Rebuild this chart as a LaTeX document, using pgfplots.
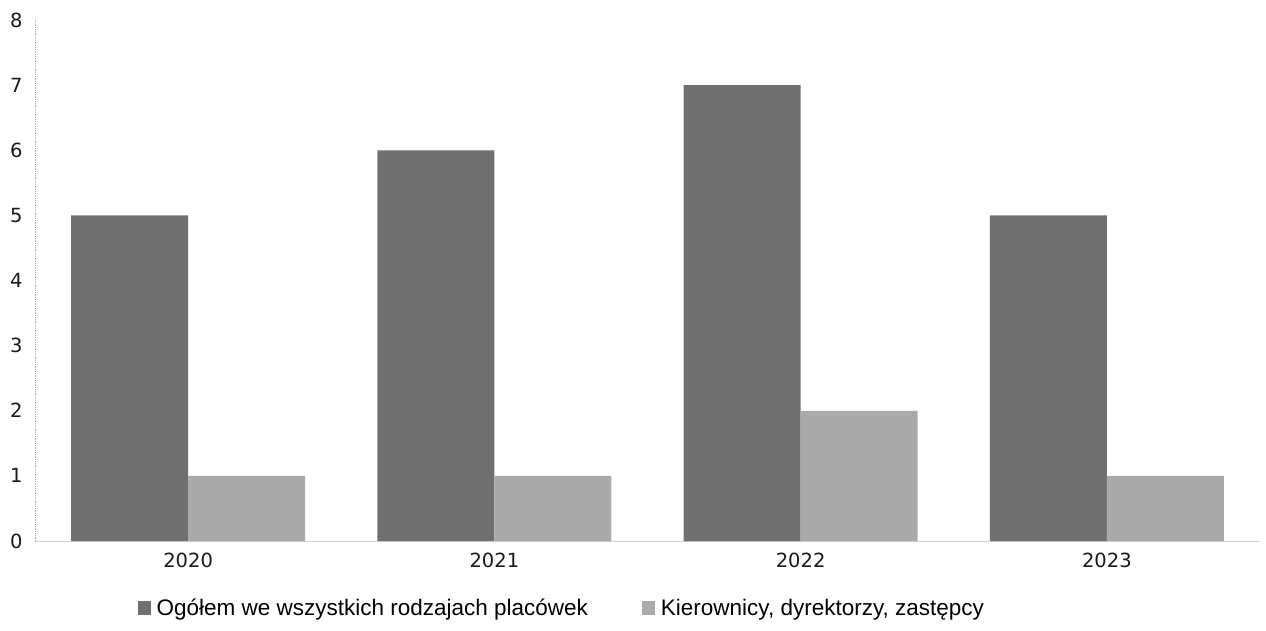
\documentclass[border=0pt]{standalone}
\usepackage{pgfplots}
\pgfplotsset{compat=1.18}
\usepackage{fontspec}
\setmainfont{Liberation Sans}
\newfontfamily\tickfont{DejaVu Sans}
\usetikzlibrary{calc}
\definecolor{darkbar}{RGB}{112,112,112}
\definecolor{lightbar}{RGB}{170,170,170}
\begin{document}
\begin{tikzpicture}
\begin{axis}[name=ax,
  scale only axis, width=1225pt, height=521pt,
  xmin=-0.5, xmax=3.5, ymin=0, ymax=8,
  ybar=0pt, bar width=117pt,
  xtick={0,1,2,3}, xticklabels={2020,2021,2022,2023},
  ytick={0,1,...,8},
  major tick length=0pt,
  axis x line*=bottom, axis y line*=left,
  x axis line style={draw=gray!35, line width=1pt},
  y axis line style={draw=gray!70, densely dotted, line width=0.8pt},
  ticklabel style={font=\tickfont\fontsize{19.5}{22}\selectfont, text=black!90},
  /pgf/number format/assume math mode=true,
  yticklabel style={xshift=-9pt},
  xticklabel style={yshift=-8pt},
  legend style={at={(0.430,-0.1286)}, anchor=center, draw=none, fill=none,
    legend columns=2, font=\fontsize{22.5}{25}\selectfont,
    /tikz/every odd column/.append style={column sep=4pt},
    /tikz/every even column/.append style={column sep=52pt}},
  legend image code/.code={\fill[#1,draw=none] (0pt,-7pt) rectangle (13pt,7pt);},
]
\addplot[fill=darkbar, draw=none] coordinates {(0,5) (1,6) (2,7) (3,5)};
\addplot[fill=lightbar, draw=none] coordinates {(0,1) (1,1) (2,2) (3,1)};
\legend{{Ogółem we wszystkich rodzajach placówek}, {Kierownicy, dyrektorzy, zastępcy}}
\end{axis}
\pgfresetboundingbox
\path ($(ax.south west)+(-35pt,-89pt)$) rectangle ($(ax.south west)+(1231pt,541pt)$);
\end{tikzpicture}
\end{document}
